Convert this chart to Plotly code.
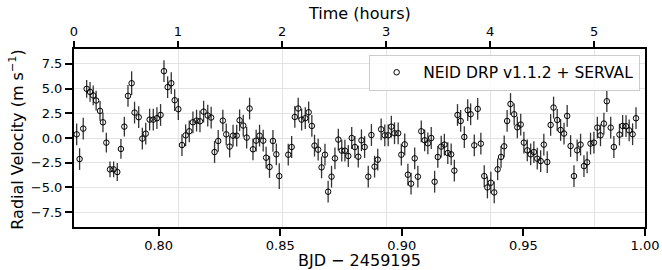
import plotly.graph_objects as go

# BJD - 2459195
bjd = [0.7663, 0.7675, 0.7690, 0.7704, 0.7718, 0.7731, 0.7743, 0.7759, 0.7771, 0.7785,
       0.7800, 0.7815, 0.7830, 0.7845, 0.7859, 0.7874, 0.7889, 0.7901, 0.7918, 0.7933,
       0.7947, 0.7963, 0.7978, 0.7993, 0.8008, 0.8022, 0.8037, 0.8052, 0.8066, 0.8081,
       0.8096, 0.8111, 0.8126, 0.8141, 0.8156, 0.8170, 0.8185, 0.8202, 0.8216, 0.8230,
       0.8245, 0.8264, 0.8278, 0.8292, 0.8306, 0.8321, 0.8333, 0.8348, 0.8362, 0.8374,
       0.8388, 0.8401, 0.8415, 0.8430, 0.8442, 0.8456, 0.8470, 0.8484, 0.8496, 0.8533,
       0.8547, 0.8560, 0.8574, 0.8588, 0.8603, 0.8617, 0.8630, 0.8641, 0.8656, 0.8670,
       0.8684, 0.8697, 0.8711, 0.8725, 0.8739, 0.8753, 0.8766, 0.8780, 0.8794, 0.8807,
       0.8821, 0.8834, 0.8847, 0.8862, 0.8875, 0.8888, 0.8901, 0.8915, 0.8930, 0.8944,
       0.8957, 0.8970, 0.8985, 0.8998, 0.9012, 0.9025, 0.9038, 0.9053, 0.9066, 0.9080,
       0.9094, 0.9107, 0.9121, 0.9135, 0.9148, 0.9162, 0.9175, 0.9189, 0.9203, 0.9216,
       0.9229, 0.9242, 0.9257, 0.9271, 0.9283, 0.9298, 0.9312, 0.9325, 0.9339, 0.9352,
       0.9366, 0.9380, 0.9394, 0.9408, 0.9421, 0.9433, 0.9447, 0.9462, 0.9475, 0.9489,
       0.9502, 0.9516, 0.9530, 0.9543, 0.9557, 0.9571, 0.9584, 0.9598, 0.9612, 0.9624,
       0.9639, 0.9653, 0.9667, 0.9680, 0.9694, 0.9708, 0.9721, 0.9735, 0.9749, 0.9762,
       0.9776, 0.9790, 0.9804, 0.9817, 0.9831, 0.9843, 0.9859, 0.9872, 0.9895, 0.9908,
       0.9922, 0.9935, 0.9949, 0.9963]

# Radial velocity (m/s)
rv = [0.37, -2.13, 0.95, 4.97, 4.66, 4.30, 3.79, 2.74, 1.59, -0.47,
      -3.17, -3.17, -3.44, -1.11, 1.15, 4.26, 5.54, 2.57, 2.10, -0.06,
      0.44, 1.86, 1.86, 2.00, 2.33, 6.76, 5.14, 5.54, 3.82, 2.91,
      -0.71, 0.27, 0.68, 1.59, 1.76, 1.69, 2.67, 2.27, 2.07, -1.42,
      -0.30, 1.76, 0.37, -0.87, 0.24, 0.24, 1.79, 1.26, 0.04, 2.98,
      -1.14, -0.27, 0.24, -0.27, -1.99, -2.93, -0.30, -1.65, -3.85, -1.69,
      -0.91, 2.13, 2.98, 1.86, 2.00, 2.60, 1.22, -0.77, -1.18, -2.97,
      -1.69, -5.43, -3.91, -2.06, -0.16, -1.28, -1.28, -1.82, 0.00, -0.91,
      -1.89, -0.23, -0.91, -3.91, 0.30, -2.90, -2.19, 0.88, 0.27, 0.27,
      1.15, 0.48, 0.48, -1.69, -0.64, -3.71, -4.62, -2.06, -3.91, 0.68,
      -0.23, -0.54, 0.00, -4.42, -1.92, -0.87, -0.67, -1.52, -1.65, -3.30,
      2.33, 1.72, 0.10, 2.81, 2.40, -0.74, 2.94, -0.57, -3.85, -5.00,
      -4.52, -5.50, -3.17, -1.92, -0.84, 1.72, 3.44, 2.40, 1.08, 1.36,
      -0.47, -1.25, -1.65, -1.42, -2.09, -2.33, -0.67, -2.43, 1.32, 3.08,
      1.82, 0.81, 0.45, 2.23, -0.81, -3.85, -1.25, -0.67, -2.84, -2.46,
      -0.57, -0.47, 1.05, 0.27, 1.46, 3.72, 1.05, -0.91, 0.34, 1.22,
      1.19, 0.77, 0.38, 2.00]

# Estimated 1-sigma uncertainties (m/s)
rv_err = [1.1, 1.1, 1.1, 0.9, 1.0, 1.0, 1.0, 1.0, 1.0, 1.0,
          0.8, 0.8, 0.9, 1.0, 1.0, 1.1, 1.2, 1.1, 1.1, 1.1,
          1.1, 1.1, 1.1, 1.1, 1.1, 1.1, 1.1, 1.1, 1.1, 1.1,
          1.1, 1.1, 1.1, 1.1, 1.1, 1.1, 1.1, 1.1, 1.1, 1.1,
          1.1, 1.1, 1.1, 1.1, 1.1, 1.1, 1.1, 1.1, 1.1, 1.1,
          1.1, 1.1, 1.1, 1.1, 1.1, 1.1, 1.1, 1.1, 1.3, 1.1,
          1.1, 1.1, 1.1, 1.1, 1.1, 1.1, 1.1, 1.1, 1.1, 1.1,
          1.1, 1.1, 1.1, 1.1, 1.1, 1.1, 1.1, 1.1, 1.1, 1.1,
          1.1, 1.1, 1.1, 1.1, 1.1, 1.1, 1.1, 1.1, 1.1, 1.1,
          1.1, 1.1, 1.1, 1.1, 1.1, 1.1, 1.1, 1.1, 1.1, 1.1,
          1.1, 1.1, 1.1, 1.1, 1.1, 1.1, 1.1, 1.1, 1.1, 1.1,
          1.1, 1.1, 1.1, 1.1, 1.1, 1.1, 1.1, 1.1, 1.1, 1.1,
          1.1, 1.1, 1.1, 1.1, 1.1, 1.1, 1.1, 1.1, 1.1, 1.1,
          1.1, 1.1, 1.1, 1.1, 1.1, 1.1, 1.1, 1.1, 1.1, 1.1,
          1.1, 1.1, 1.1, 1.1, 1.1, 1.1, 1.1, 1.1, 1.1, 1.1,
          1.1, 1.1, 1.1, 1.1, 1.1, 1.1, 1.1, 1.1, 1.1, 1.1,
          1.1, 1.1, 1.1, 1.1]

x_ticks = [0.80, 0.85, 0.90, 0.95, 1.00]
y_ticks = [-7.5, -5.0, -2.5, 0.0, 2.5, 5.0, 7.5]
hour_ticks = [0, 1, 2, 3, 4, 5]

X_MIN, X_MAX = 0.7652, 1.0
HOURS_PER_DAY = 23.38          # scale of the top (hours) axis as drawn
hours_max = (X_MAX - X_MIN) * HOURS_PER_DAY
hours = [(b - X_MIN) * HOURS_PER_DAY for b in bjd]

FONT = "DejaVu Sans"

fig = go.Figure()
fig.add_trace(go.Scatter(
    x=bjd, y=rv, mode="markers",
    name="NEID DRP v1.1.2 + SERVAL",
    marker=dict(symbol="circle", size=5.5, color="rgba(0,0,0,0)",
                line=dict(color="black", width=1)),
    error_y=dict(type="data", array=rv_err, visible=True,
                 color="rgba(0,0,0,0.8)", thickness=1.3, width=0),
))
# invisible companion trace so that the top "hours" axis is rendered
fig.add_trace(go.Scatter(
    x=hours, y=rv, xaxis="x2", yaxis="y", mode="markers",
    marker=dict(opacity=0), showlegend=False, hoverinfo="skip",
))

axis_common = dict(
    ticks="outside", ticklen=7, tickwidth=1.5, tickcolor="black",
    tickfont=dict(family=FONT, size=13, color="black"),
    zeroline=False, automargin=False,
)

fig.update_layout(
    width=662, height=270,
    margin=dict(l=74, r=17, t=49, b=43),
    paper_bgcolor="white", plot_bgcolor="white",
    font=dict(family=FONT, color="black"),
    showlegend=True,
    legend=dict(
        x=0.9915, y=0.968, xanchor="right", yanchor="top",
        bgcolor="rgba(255,255,255,0.8)", bordercolor="#cccccc", borderwidth=1,
        font=dict(family=FONT, size=15.5, color="black"),
        itemwidth=43, tracegroupgap=0,
    ),
    xaxis=dict(
        range=[X_MIN, X_MAX], tickvals=x_ticks, tickformat=".2f",
        showgrid=False, showline=True, linecolor="black", linewidth=2, mirror=True,
        ticklabelstandoff=-2,
        **axis_common,
    ),
    xaxis2=dict(
        overlaying="x", side="top", anchor="y",
        range=[0, hours_max], tickvals=hour_ticks,
        showgrid=True, gridcolor="#e3e3e3", gridwidth=1, showline=False,
        ticklabelstandoff=0,
        **axis_common,
    ),
    yaxis=dict(
        range=[-9, 9], tickvals=y_ticks, tickformat=".1f",
        showgrid=True, gridcolor="#e3e3e3", gridwidth=1,
        showline=True, linecolor="black", linewidth=2, mirror=True,
        **axis_common,
    ),
    annotations=[
        dict(text="BJD − 2459195", xref="paper", yref="paper", x=0.5, y=-0.188,
             xanchor="center", yanchor="middle", showarrow=False,
             font=dict(family=FONT, size=16, color="black")),
        dict(text="Time (hours)", xref="paper", yref="paper", x=0.5, y=1.2,
             xanchor="center", yanchor="middle", showarrow=False,
             font=dict(family=FONT, size=16, color="black")),
        dict(text="Radial Velocity (m s<sup>−1</sup>)", xref="paper", yref="paper",
             x=-0.1, y=0.49, xanchor="center", yanchor="middle", textangle=-90,
             showarrow=False, font=dict(family=FONT, size=16, color="black")),
    ],
)

fig.write_html("out.html", config={"displayModeBar": False},
               post_script="document.body.style.margin='0';")
